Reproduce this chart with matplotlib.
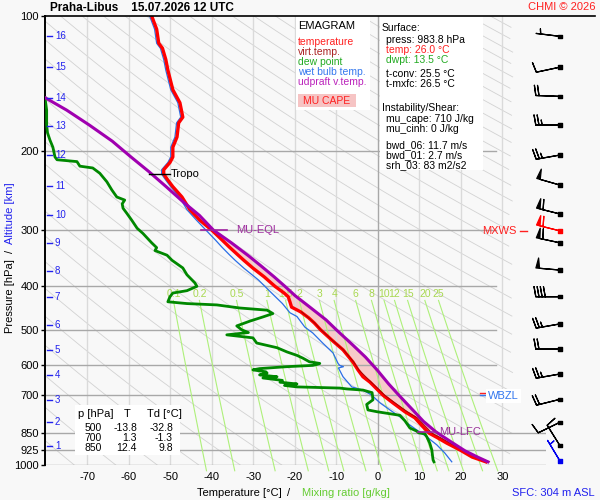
import numpy as np
import matplotlib
matplotlib.use('Agg')
import matplotlib.pyplot as plt
from matplotlib.patches import Rectangle
from matplotlib.lines import Line2D
from matplotlib.ticker import NullLocator

plt.rcParams['font.family'] = ['Liberation Sans', 'DejaVu Sans']
plt.rcParams['axes.unicode_minus'] = False

W, H = 600, 500
BG = '#f8f8f8'

# ---- sounding: temperature (hPa, degC) ----
temp_p = [100, 107, 115, 118, 125, 132, 140, 146, 156, 168, 173, 186, 196, 206, 212, 220, 225,
          232, 240, 253, 270, 285, 300, 315, 327, 340, 350, 365, 381, 400, 414, 422, 433, 445,
          456, 470, 483, 500, 527, 554, 590, 614, 636, 654, 681, 700, 727, 761, 785, 821, 850,
          870, 894, 926, 960, 983.8]
temp_t = [-54.5, -53.3, -52.8, -51.9, -51.1, -50.6, -49.9, -49.4, -47.7, -47.0, -48.0, -48.4,
          -49.4, -49.4, -50.1, -51.6, -51.6, -50.6, -49.4, -47.2, -45.3, -42.9, -40.0, -37.6,
          -35.8, -33.8, -32.3, -30.0, -27.4, -24.8, -22.6, -21.6, -21.2, -20.8, -18.6, -16.7,
          -15.3, -13.8, -11.1, -8.4, -6.0, -4.8, -3.6, -1.9, 0.0, 1.3, 3.6, 6.5, 8.9, 10.8, 12.4,
          14.4, 16.6, 19.8, 22.7, 26.0]

# virtual temperature (lower troposphere)
tv_p = [456, 483, 500, 527, 554, 590, 614, 654, 681, 700, 727, 761, 785, 821, 850, 870, 894,
        926, 960, 983.8]
tv_t = [-18.4, -15.2, -13.7, -11.0, -8.3, -5.8, -4.6, -1.6, 0.4, 1.7, 4.1, 7.1, 9.5, 11.5, 13.1,
        15.2, 17.4, 20.6, 23.6, 26.9]

# dew point
dwpt_p = [152, 162, 175, 182, 189, 196, 206, 209, 211, 216, 218, 224, 234, 244, 253, 257, 262,
          268, 275, 285, 297, 305, 320, 328, 333, 341, 350, 364, 377, 393, 400, 409, 414, 422,
          433, 437, 440, 447, 452, 460, 468, 478, 490, 500, 507, 513, 521, 535, 548, 560, 570,
          578, 589, 594, 597, 600, 604, 610, 614, 620, 624, 630, 636, 640, 648, 654, 660, 665,
          670, 674, 677, 681, 690, 700, 716, 733, 754, 761, 775, 797, 827, 841, 848, 852, 866,
          894, 926, 960, 975, 983.8]
dwpt_t = [-80.2, -79.8, -79.8, -79.6, -79.0, -78.3, -77.8, -77.3, -72.5, -71.8, -68.7, -67.0,
          -65.3, -64.1, -62.9, -61.0, -61.6, -61.4, -60.5, -59.3, -58.0, -56.6, -54.5, -53.3,
          -53.7, -50.8, -49.6, -47.0, -46.0, -44.1, -43.6, -46.0, -49.4, -50.1, -50.6, -46.0,
          -38.8, -33.3, -26.7, -25.3, -27.7, -30.8, -34.0, -32.8, -31.2, -36.4, -30.1, -29.2,
          -24.3, -21.9, -19.5, -18.1, -16.5, -14.0, -14.7, -15.7, -22.0, -28.5, -30.1, -27.0,
          -26.7, -28.5, -24.3, -27.7, -23.0, -23.6, -19.5, -22.5, -19.5, -9.2, -7.5, -3.6,
          -1.4, -1.3, -1.2, -2.7, -2.4, -0.2, 5.3, 6.5, 7.7, 9.4, 9.8, 11.3, 11.8, 12.5, 13.0,
          13.2, 13.3, 13.5]

# wet bulb temperature
wetb_p = [100, 107, 115, 118, 125, 132, 140, 146, 156, 168, 173, 186, 196, 206, 212, 220, 225,
          232, 240, 253, 270, 285, 300, 315, 327, 340, 350, 365, 387, 414, 437, 458, 467, 493,
          508, 535, 563, 594, 600, 604, 608, 636, 670, 681, 700, 727, 754, 781, 806, 836, 866,
          902, 940, 983.8]
wetb_t = [-55.0, -53.8, -53.3, -52.4, -51.6, -51.1, -50.4, -49.9, -48.2, -47.5, -48.5, -48.9,
          -49.9, -49.9, -50.6, -52.1, -52.1, -51.1, -49.9, -47.8, -46.0, -43.7, -41.4, -39.2,
          -37.6, -35.8, -34.4, -32.2, -28.8, -25.6, -23.0, -21.2, -19.5, -17.6, -15.7, -13.3,
          -10.8, -9.6, -9.2, -8.3, -9.5, -8.4, -6.3, -3.6, -1.4, 0.5, 2.9, 5.3, 7.0, 9.4, 11.8,
          14.2, 16.1, 17.8]

# most unstable parcel (updraft virtual temperature)
parc_p = [152, 162, 175, 190, 206, 222, 240, 260, 278, 300, 320, 343, 360, 381, 400, 420, 445,
          475, 500, 541, 575, 614, 660, 703, 754, 800, 844, 894, 930, 960, 983.8]
parc_t = [-80.2, -75.0, -69.5, -64.0, -59.5, -55.2, -51.0, -46.8, -43.0, -39.6, -35.3, -31.0,
          -28.2, -25.0, -22.4, -19.9, -16.4, -12.5, -10.0, -6.0, -3.0, -0.2, 2.6, 5.3, 8.4, 11.0,
          14.0, 18.1, 21.0, 24.0, 26.5]

# wind profile (direction from, speed)
wind_p = [111, 130, 151, 175, 204, 238, 276, 301, 320, 368, 422, 485, 552, 627, 714, 803, 906, 980]
wind_dir = [277, 258, 272, 270, 260, 286, 284, 284, 282, 275, 270, 260, 270, 260, 256, 244, 328, 329]
wind_spd = [5, 10, 20, 25, 25, 50, 60, 60, 60, 50, 40, 25, 20, 25, 20, 10, 10, 5]

# altitude scale (km -> hPa)
alt_km = [16, 15, 14, 13, 12, 11, 10, 9, 8, 7, 6, 5, 4, 3, 2, 1]
alt_p = [111, 130, 152, 176, 204, 239, 277, 320, 370, 422, 488, 554, 630, 717, 803, 906]

p_ticks = [100, 200, 300, 400, 500, 600, 700, 850, 925, 1000]
t_ticks = [-70, -60, -50, -40, -30, -20, -10, 0, 10, 20, 30]
mix_ratios = [0.1, 0.2, 0.5, 1, 1.5, 2, 3, 4, 6, 8, 10, 12, 15, 20, 25]

table_p = ['500', '700', '850']
table_t = ['-13.8', '1.3', '12.4']
table_td = ['-32.8', '-1.3', '9.8']

P_TROPO, P_EQL, P_LFC, P_MXWS, P_FZL, P_WBZL = 225, 300, 844, 301, 690, 703


def fx(x):
    return x / W


def fy(y):
    return 1 - y / H


def dewpoint_of(w, p):
    e = w * p / (622.0 + w)
    a = np.log(e / 6.112)
    return 243.5 * a / (17.67 - a)


fig = plt.figure(figsize=(6, 5), dpi=100, facecolor=BG)
ax = fig.add_axes([fx(45), fy(465), (546 - 45) / W, 449 / H])
ax.set_facecolor(BG)
ax.set_yscale('log')
ax.set_ylim(1000, 100)
ax.set_xlim(-80.2, 40.5)
for s in ['top', 'right', 'bottom']:
    ax.spines[s].set_visible(False)
ax.spines['left'].set_linewidth(1.4)

ax.set_yticks(p_ticks)
ax.set_yticklabels([str(p) for p in p_ticks])
ax.yaxis.set_minor_locator(NullLocator())
ax.set_xticks(t_ticks)
ax.set_xticklabels([str(t) for t in t_ticks])
ax.tick_params(axis='y', length=3, width=1, pad=1.5, labelsize=8)
ax.tick_params(axis='x', length=0, pad=5, labelsize=8)

# dry adiabats
pg = np.logspace(2, 3, 200)
for th in range(190, 600, 10):
    tt = th * (pg / 1000.0) ** 0.286 - 273.15
    tt = np.where(tt > 32.5, np.nan, tt)
    ax.plot(tt, pg, color='#d2d2d2', lw=0.6, zorder=1)

# temperature grid
for t in t_ticks:
    ax.plot([t, t], [100, 1000], color='#a8a8a8' if t == 0 else '#dadada', lw=1, zorder=1.2)
for p in p_ticks[1:]:
    right = 40.5 if p >= 850 else 28.5
    ax.plot([-80.2, right], [p, p], color='#a8a8a8', lw=1, zorder=1.2)

# mixing ratio lines
pm = np.logspace(np.log10(430), np.log10(1030), 40)
for w in mix_ratios:
    ax.plot(dewpoint_of(w, pm), pm, color='#aef07a', lw=0.8, zorder=1.5, clip_on=False)
    ax.text(dewpoint_of(w, 430), 416, f'{w:g}', color='#a8d850', fontsize=7.5,
            ha='center', va='center', zorder=1.6)

# CAPE area between parcel and environment
sel_parc = [(p, t) for p, t in zip(parc_p, parc_t) if P_EQL <= p <= P_LFC]
sel_env = [(p, t) for p, t in zip(temp_p, temp_t) if P_EQL <= p <= P_LFC]
poly_p = [p for p, t in sel_parc] + [p for p, t in sel_env[::-1]]
poly_t = [t for p, t in sel_parc] + [t for p, t in sel_env[::-1]]
ax.fill(poly_t, poly_p, color='#f7caca', lw=0, zorder=1.1)

# profiles
ax.plot(wetb_t, wetb_p, color='#2a6ee6', lw=0.9, zorder=3)
ax.plot(dwpt_t, dwpt_p, color='#008800', lw=2.0, zorder=3)
ax.plot(temp_t, temp_p, color='#ff0000', lw=2.4, zorder=4)
ax.plot(tv_t, tv_p, color='#a80000', lw=0.7, zorder=4.5)
ax.plot(parc_t, parc_p, color='#a000b0', lw=2.2, zorder=5)

# altitude scale
for km, p in zip(alt_km, alt_p):
    ax.plot([-79.8, -78.4], [p, p], color='#2222ee', lw=1, zorder=6)
    ax.text(-77.8, p, str(km), color='#2222ee', fontsize=7, ha='left', va='center', zorder=6)

# levels
ax.plot([-55.2, -50.1], [P_TROPO, P_TROPO], color='black', lw=1, zorder=6)
ax.text(-49.9, P_TROPO, 'Tropo', fontsize=8, va='center', zorder=6)
ax.plot([-42.7, -36.4], [P_EQL, P_EQL], color='#a020a0', lw=1.2, zorder=6)
ax.text(-34.2, P_EQL, 'MU-EQL', fontsize=8, color='#a030a0', va='center', zorder=6)
ax.plot([9.6, 14.2], [P_LFC, P_LFC], color='#a020a0', lw=1.2, zorder=6)
ax.text(14.7, P_LFC, 'MU-LFC', fontsize=8, color='#993399', va='center', zorder=6)
ax.plot([24.6, 26.3], [P_FZL, P_FZL], color='#ff2020', lw=1, zorder=6)
ax.plot([27.0, 32.0], [P_FZL - 3, P_FZL - 3], color='#ff2020', lw=0.8, ls=(0, (3, 2)), zorder=6)
ax.plot([24.6, 26.3], [P_WBZL - 4, P_WBZL - 4], color='#3377ee', lw=1, zorder=6)
ax.text(26.5, P_WBZL, 'WBZL', fontsize=8, color='#3377ee', va='center', zorder=7,
        bbox=dict(facecolor='white', edgecolor='none', pad=1.5))
ax.text(33.3, P_MXWS, 'MXWS', fontsize=8, color='#ff2020', ha='right', va='center', zorder=6)
ax.plot([34.2, 35.9], [P_MXWS, P_MXWS], color='#ff2020', lw=1, zorder=6)

# wind barbs (staff length in px = L**2 / 2 * dpi / 72)
axw = fig.add_axes([fx(505), fy(465), 95 / W, 449 / H])
axw.set_yscale('log')
axw.set_ylim(1000, 100)
axw.set_xlim(0, 95)
axw.axis('off')
d = np.radians(wind_dir)
u = -np.array(wind_spd) * np.sin(d)
v = -np.array(wind_spd) * np.cos(d)
cols = ['black'] * len(wind_p)
cols[wind_p.index(P_MXWS)] = '#ff0000'
cols[-1] = '#0000ee'
xs = [55] * len(wind_p)
axw.barbs(xs, wind_p, u, v, length=5.9, pivot='tip', barbcolor=cols, flagcolor=cols,
          linewidth=0.9, sizes=dict(width=0.15, spacing=0.13, height=0.42), clip_on=False)
axw.scatter(xs, wind_p, marker='s', s=6, c=cols, zorder=5, clip_on=False)

# top line and headings
fig.add_artist(Line2D([fx(45), fx(595)], [fy(16), fy(16)], color='black', lw=1.2))
fig.text(fx(50), fy(8), 'Praha-Libus    15.07.2026 12 UTC', fontsize=8.5, weight='bold', va='center')
fig.text(fx(595), fy(7), 'CHMI \u00a9 2026', fontsize=8, color='#ff2020', ha='right', va='center')

# legend box
fig.add_artist(Rectangle((fx(296), fy(110)), 74 / W, 94 / H, transform=fig.transFigure,
                         facecolor='white', edgecolor='none'))
legend_items = [('EMAGRAM', 'black', 26), ('temperature', '#ff2020', 42),
                ('virt.temp.', '#aa2222', 52), ('dew point', '#22aa22', 62),
                ('wet bulb temp.', '#3377ee', 72), ('udpraft v.temp.', '#bb22bb', 82)]
for txt, c, y in legend_items:
    fig.text(fx(298), fy(y), txt, color=c, fontsize=8 if txt == 'EMAGRAM' else 7.5, va='center')
fig.add_artist(Rectangle((fx(298), fy(107)), 58 / W, 13 / H, transform=fig.transFigure,
                         facecolor='#f6c4c4', edgecolor='none'))
fig.text(fx(303), fy(101), 'MU CAPE', color='#ff2020', fontsize=7.5, va='center')

# info box
fig.add_artist(Rectangle((fx(380), fy(170)), 103 / W, 154 / H, transform=fig.transFigure,
                         facecolor='white', edgecolor='none'))
info_items = [('Surface:', 'black', 382, 28), ('press: 983.8 hPa', 'black', 386, 40),
              ('temp: 26.0 \u00b0C', '#ff2020', 386, 50), ('dwpt: 13.5 \u00b0C', '#22aa22', 386, 60),
              ('t-conv: 25.5 \u00b0C', 'black', 386, 74), ('t-mxfc: 26.5 \u00b0C', 'black', 386, 84),
              ('Instability/Shear:', 'black', 382, 108), ('mu_cape: 710 J/kg', 'black', 386, 119),
              ('mu_cinh: 0 J/kg', 'black', 386, 129), ('bwd_06: 11.7 m/s', 'black', 386, 145),
              ('bwd_01: 2.7 m/s', 'black', 386, 155), ('srh_03: 83 m2/s2', 'black', 386, 165)]
for txt, c, x, y in info_items:
    fig.text(fx(x), fy(y), txt, color=c, fontsize=7.5, va='center')

# table box
fig.add_artist(Rectangle((fx(75), fy(455)), 105 / W, 50 / H, transform=fig.transFigure,
                         facecolor='white', edgecolor='none'))
fig.text(fx(78), fy(414), 'p [hPa]', fontsize=8, va='center')
fig.text(fx(127), fy(414), 'T', fontsize=8, va='center', ha='center')
fig.text(fx(147), fy(414), 'Td [\u00b0C]', fontsize=8, va='center')
for i, (a, b, c) in enumerate(zip(table_p, table_t, table_td)):
    y = 428 + 10 * i
    fig.text(fx(102), fy(y), a, fontsize=7.5, va='center', ha='right')
    fig.text(fx(137), fy(y), b, fontsize=7.5, va='center', ha='right')
    fig.text(fx(173), fy(y), c, fontsize=7.5, va='center', ha='right')

# axis titles
fig.text(fx(197), fy(493), 'Temperature [\u00b0C]', fontsize=8, va='center')
fig.text(fx(289), fy(493), '/', fontsize=8, va='center', ha='center')
fig.text(fx(302), fy(493), 'Mixing ratio [g/kg]', fontsize=8, va='center', color='#66cc33')
fig.text(fx(512), fy(493), 'SFC: 304 m ASL', fontsize=8, va='center', color='#2020ee')
fig.text(fx(10), fy(296), 'Pressure [hPa]', fontsize=8, rotation=90, ha='center', va='center')
fig.text(fx(10), fy(251), '/', fontsize=8, rotation=90, ha='center', va='center')
fig.text(fx(10), fy(213), 'Altitude [km]', fontsize=8, rotation=90, ha='center', va='center',
         color='#2222ee')

fig.savefig('out.png', dpi=100, facecolor=BG)
